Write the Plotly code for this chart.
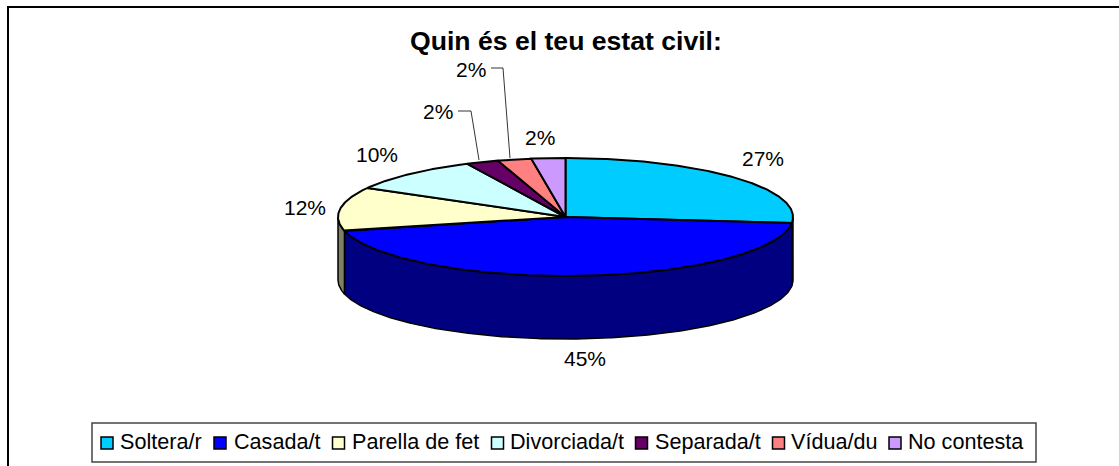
import math
import plotly.graph_objects as go

# ---- data ----
categories = ["Soltera/r", "Casada/t", "Parella de fet", "Divorciada/t", "Separada/t", "Vídua/du", "No contesta"]
values = [26.6, 44.6, 12.0, 9.7, 2.3, 2.4, 2.4]
top_colors = ["#00CCFF", "#0000FF", "#FFFFCC", "#CCFFFF", "#660066", "#FF8080", "#CC99FF"]
side_colors = ["#006680", "#000080", "#808066", "#668080", "#330033", "#804040", "#664D80"]
title_text = "Quin és el teu estat civil:"

# ---- layout constants (pixels of the 1119x466 page) ----
W, H = 1119, 466
CX, CY, RX, RY, DEPTH = 565.5, 217, 227.5, 59, 63
FONT = "Liberation Sans, Arial, sans-serif"
FS = 21
LEGEND_FS = 21.6
label_pos = [(763, 158), (585, 358), (305, 207), (377, 154), (438, 111), (471, 69), (540, 137)]
leaders = [None, None, None, None, [(458, 111), (471, 111), (479, 160)], [(491, 68), (503, 68), (510, 158)], None]
legend_sym_x = [107, 220, 338.5, 497.5, 641.5, 778.5, 895]
legend_txt_x = [118, 232, 350, 508, 653, 789, 906]
LEG_Y = 442


def pt(deg, dy=0.0):
    r = math.radians(deg)
    return CX + RX * math.sin(r), CY - RY * math.cos(r) + dy


def arc(a, b, dy=0.0):
    n = max(2, int(abs(b - a) * 2) + 1)
    return [pt(a + (b - a) * i / (n - 1), dy) for i in range(n)]


total = sum(values)
edges = [0.0]
for v in values:
    edges.append(edges[-1] + v / total * 360)

fig = go.Figure()


def poly(points, fill, width=2.0):
    fig.add_trace(go.Scatter(
        x=[p[0] for p in points], y=[p[1] for p in points],
        mode="lines", fill="toself", fillcolor=fill,
        line=dict(color="#000000", width=width),
        hoverinfo="skip", showlegend=False,
    ))


# walls: only the front half of the rim (90..270 deg clockwise from top) is seen
for i in range(len(values)):
    a, b = max(edges[i], 90), min(edges[i + 1], 270)
    if b > a:
        poly(arc(a, b) + arc(b, a, DEPTH) + [pt(a)], side_colors[i], 1.5)

# top faces
for i in range(len(values)):
    poly([(CX, CY)] + arc(edges[i], edges[i + 1]) + [(CX, CY)], top_colors[i])

# leader lines
for ld in leaders:
    if ld:
        fig.add_trace(go.Scatter(x=[p[0] for p in ld], y=[p[1] for p in ld], mode="lines",
                                 line=dict(color="#000000", width=0.8),
                                 hoverinfo="skip", showlegend=False))

# legend swatches
fig.add_trace(go.Scatter(
    x=legend_sym_x, y=[LEG_Y + 1] * len(categories), mode="markers",
    marker=dict(symbol="square", size=12, color=top_colors, line=dict(color="#000000", width=1.5)),
    hoverinfo="skip", showlegend=False,
))

ann = []
for v, (lx, ly) in zip(values, label_pos):
    ann.append(dict(x=lx, y=ly, text=f"{round(v / total * 100)}%", showarrow=False,
                    xanchor="center", yanchor="middle", font=dict(family=FONT, size=FS, color="#000000")))
for name, tx in zip(categories, legend_txt_x):
    ann.append(dict(x=tx, y=LEG_Y - 1, text=name, showarrow=False, xanchor="left", yanchor="middle",
                    font=dict(family=FONT, size=LEGEND_FS, color="#000000")))
ann.append(dict(x=566, y=41, text=f"<b>{title_text}</b>", showarrow=False, xanchor="center", yanchor="middle",
                font=dict(family=FONT, size=26.6, color="#000000")))

shapes = [
    dict(type="rect", x0=92, x1=1036, y0=423, y1=462, line=dict(color="#444444", width=1.5), fillcolor="rgba(0,0,0,0)", layer="below"),
    dict(type="path", path="M 8 466 L 8 7 L 1119 7", line=dict(color="#000000", width=2), layer="below"),
]

fig.update_layout(
    width=W, height=H, margin=dict(l=0, r=0, t=0, b=0),
    paper_bgcolor="#FFFFFF", plot_bgcolor="#FFFFFF",
    xaxis=dict(range=[0, W], visible=False, fixedrange=True),
    yaxis=dict(range=[H, 0], visible=False, fixedrange=True),
    annotations=ann, shapes=shapes, showlegend=False,
)
fig.write_html("out.html", config={"displayModeBar": False}, default_width=W, default_height=H,
               post_script="document.body.style.margin='0';document.documentElement.style.overflow='hidden';")
